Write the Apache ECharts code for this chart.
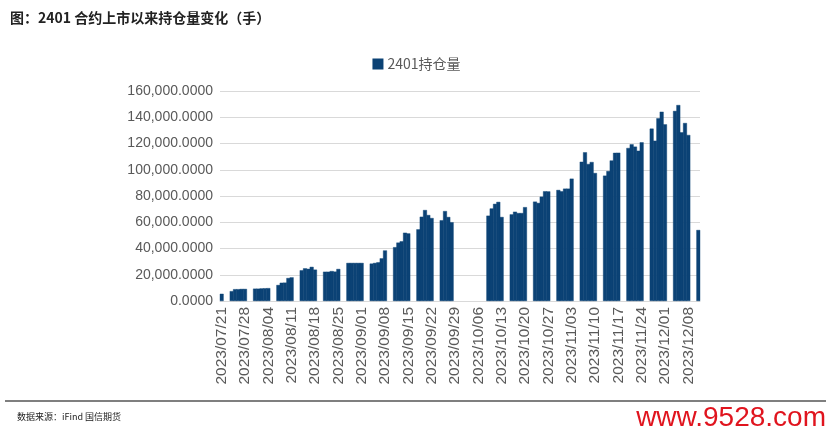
<!DOCTYPE html>
<html>
<head>
<meta charset="utf-8">
<script src="https://cdn.jsdelivr.net/npm/echarts@6/dist/echarts.min.js"></script>
<style>
  html, body { margin: 0; padding: 0; background: #fff; }
  #chart { width: 833px; height: 434px; }
</style>
</head>
<body>
<div id="chart"></div>
<script>
// trading days and open interest (lots)
var tradeDays = [
  "2023/07/21",
  "2023/07/24", "2023/07/25", "2023/07/26", "2023/07/27", "2023/07/28",
  "2023/07/31", "2023/08/01", "2023/08/02", "2023/08/03", "2023/08/04",
  "2023/08/07", "2023/08/08", "2023/08/09", "2023/08/10", "2023/08/11",
  "2023/08/14", "2023/08/15", "2023/08/16", "2023/08/17", "2023/08/18",
  "2023/08/21", "2023/08/22", "2023/08/23", "2023/08/24", "2023/08/25",
  "2023/08/28", "2023/08/29", "2023/08/30", "2023/08/31", "2023/09/01",
  "2023/09/04", "2023/09/05", "2023/09/06", "2023/09/07", "2023/09/08",
  "2023/09/11", "2023/09/12", "2023/09/13", "2023/09/14", "2023/09/15",
  "2023/09/18", "2023/09/19", "2023/09/20", "2023/09/21", "2023/09/22",
  "2023/09/25", "2023/09/26", "2023/09/27", "2023/09/28",
  "2023/10/09", "2023/10/10", "2023/10/11", "2023/10/12", "2023/10/13",
  "2023/10/16", "2023/10/17", "2023/10/18", "2023/10/19", "2023/10/20",
  "2023/10/23", "2023/10/24", "2023/10/25", "2023/10/26", "2023/10/27",
  "2023/10/30", "2023/10/31", "2023/11/01", "2023/11/02", "2023/11/03",
  "2023/11/06", "2023/11/07", "2023/11/08", "2023/11/09", "2023/11/10",
  "2023/11/13", "2023/11/14", "2023/11/15", "2023/11/16", "2023/11/17",
  "2023/11/20", "2023/11/21", "2023/11/22", "2023/11/23", "2023/11/24",
  "2023/11/27", "2023/11/28", "2023/11/29", "2023/11/30", "2023/12/01",
  "2023/12/04", "2023/12/05", "2023/12/06", "2023/12/07", "2023/12/08",
  "2023/12/11"
];
var openInterest = [
  5500,
  7500, 9000, 9000, 9200, 9200,
  9400, 9400, 9600, 9700, 9800,
  12200, 13900, 14000, 17500, 18000,
  23400, 24900, 24500, 26000, 23900,
  22300, 22300, 22800, 22400, 24400,
  29000, 29000, 29000, 29000, 29000,
  28500, 29000, 29500, 32500, 38500,
  41000, 44500, 45500, 52000, 51500,
  54600, 64200, 69300, 65500, 63200,
  61500, 68500, 64000, 60000,
  65000, 70500, 74000, 75500, 64000,
  66000, 68000, 67000, 67000, 71500,
  75700, 74700, 79500, 83600, 83500,
  84600, 83600, 85600, 85600, 93200,
  106100, 113300, 104400, 105900, 97500,
  95500, 99000, 107100, 112900, 113000,
  116600, 119400, 117600, 114500, 120900,
  131300, 122100, 139200, 144200, 134600,
  144800, 149300, 128500, 135600, 126500,
  54100
];
var seriesName = "2401持仓量";
var yTicks = { min: 0, max: 160000, step: 20000 };

// the axis runs over every calendar day, non-trading days stay empty
function pad(n) { return n < 10 ? "0" + n : "" + n; }
var categories = [];
var values = [];
var lookup = {};
tradeDays.forEach(function (d, i) { lookup[d] = openInterest[i]; });
var day = new Date(Date.UTC(2023, 6, 21));
var last = new Date(Date.UTC(2023, 11, 11));
while (day <= last) {
  var key = day.getUTCFullYear() + "/" + pad(day.getUTCMonth() + 1) + "/" + pad(day.getUTCDate());
  categories.push(key);
  values.push(lookup[key] !== undefined ? lookup[key] : null);
  day = new Date(day.getTime() + 86400000);
}

var mychart = echarts.init(document.getElementById("chart"));
mychart.setOption({
  animation: false,
  backgroundColor: "#fff",
  title: [
    {
      text: "图：2401 合约上市以来持仓量变化（手）",
      left: 5,
      top: 6,
      textStyle: { fontFamily: "Noto Sans CJK SC", fontSize: 14, fontWeight: "bold", color: "#222" }
    },
    {
      text: "数据来源：iFind 国信期货",
      left: 12,
      top: 407,
      textStyle: { fontFamily: "Noto Sans CJK SC", fontSize: 9, fontWeight: "normal", color: "#222" }
    },
    {
      text: "www.9528.com",
      right: 2,
      top: 399,
      textStyle: { fontFamily: "Liberation Sans", fontSize: 28, fontWeight: "normal", color: "#e0141e" }
    }
  ],
  graphic: [
    {
      type: "line",
      shape: { x1: 5, y1: 401, x2: 826, y2: 401 },
      style: { stroke: "#555", lineWidth: 1.5 }
    }
  ],
  legend: {
    top: 52,
    left: "center",
    itemWidth: 9,
    itemHeight: 9,
    itemGap: 5,
    icon: "rect",
    textStyle: { fontFamily: "Noto Sans CJK SC", fontSize: 14, color: "#595959" },
    data: [seriesName]
  },
  grid: {
    left: 220,
    right: 133,
    top: 91,
    bottom: 133,
    containLabel: false
  },
  xAxis: {
    type: "category",
    data: categories,
    boundaryGap: true,
    axisLine: { lineStyle: { color: "#d9d9d9" } },
    axisTick: {
      alignWithLabel: true,
      interval: 6,
      length: 5,
      lineStyle: { color: "#d9d9d9" }
    },
    axisLabel: {
      interval: 6,
      rotate: 90,
      margin: 6,
      fontFamily: "Liberation Sans",
      fontSize: 15.5,
      color: "#595959"
    }
  },
  yAxis: {
    type: "value",
    min: yTicks.min,
    max: yTicks.max,
    interval: yTicks.step,
    axisLine: { show: false },
    axisTick: { show: false },
    splitLine: { lineStyle: { color: "#d9d9d9" } },
    axisLabel: {
      margin: 7,
      fontFamily: "Liberation Sans",
      fontSize: 14,
      color: "#595959",
      formatter: function (v) {
        return v.toLocaleString("en-US", { minimumFractionDigits: 4, maximumFractionDigits: 4 });
      }
    }
  },
  series: [
    {
      name: seriesName,
      type: "bar",
      data: values,
      barWidth: 3.9,
      itemStyle: { color: "#0b4275", borderColor: "#0b4275", borderWidth: 0.4 }
    }
  ]
});
</script>
</body>
</html>
